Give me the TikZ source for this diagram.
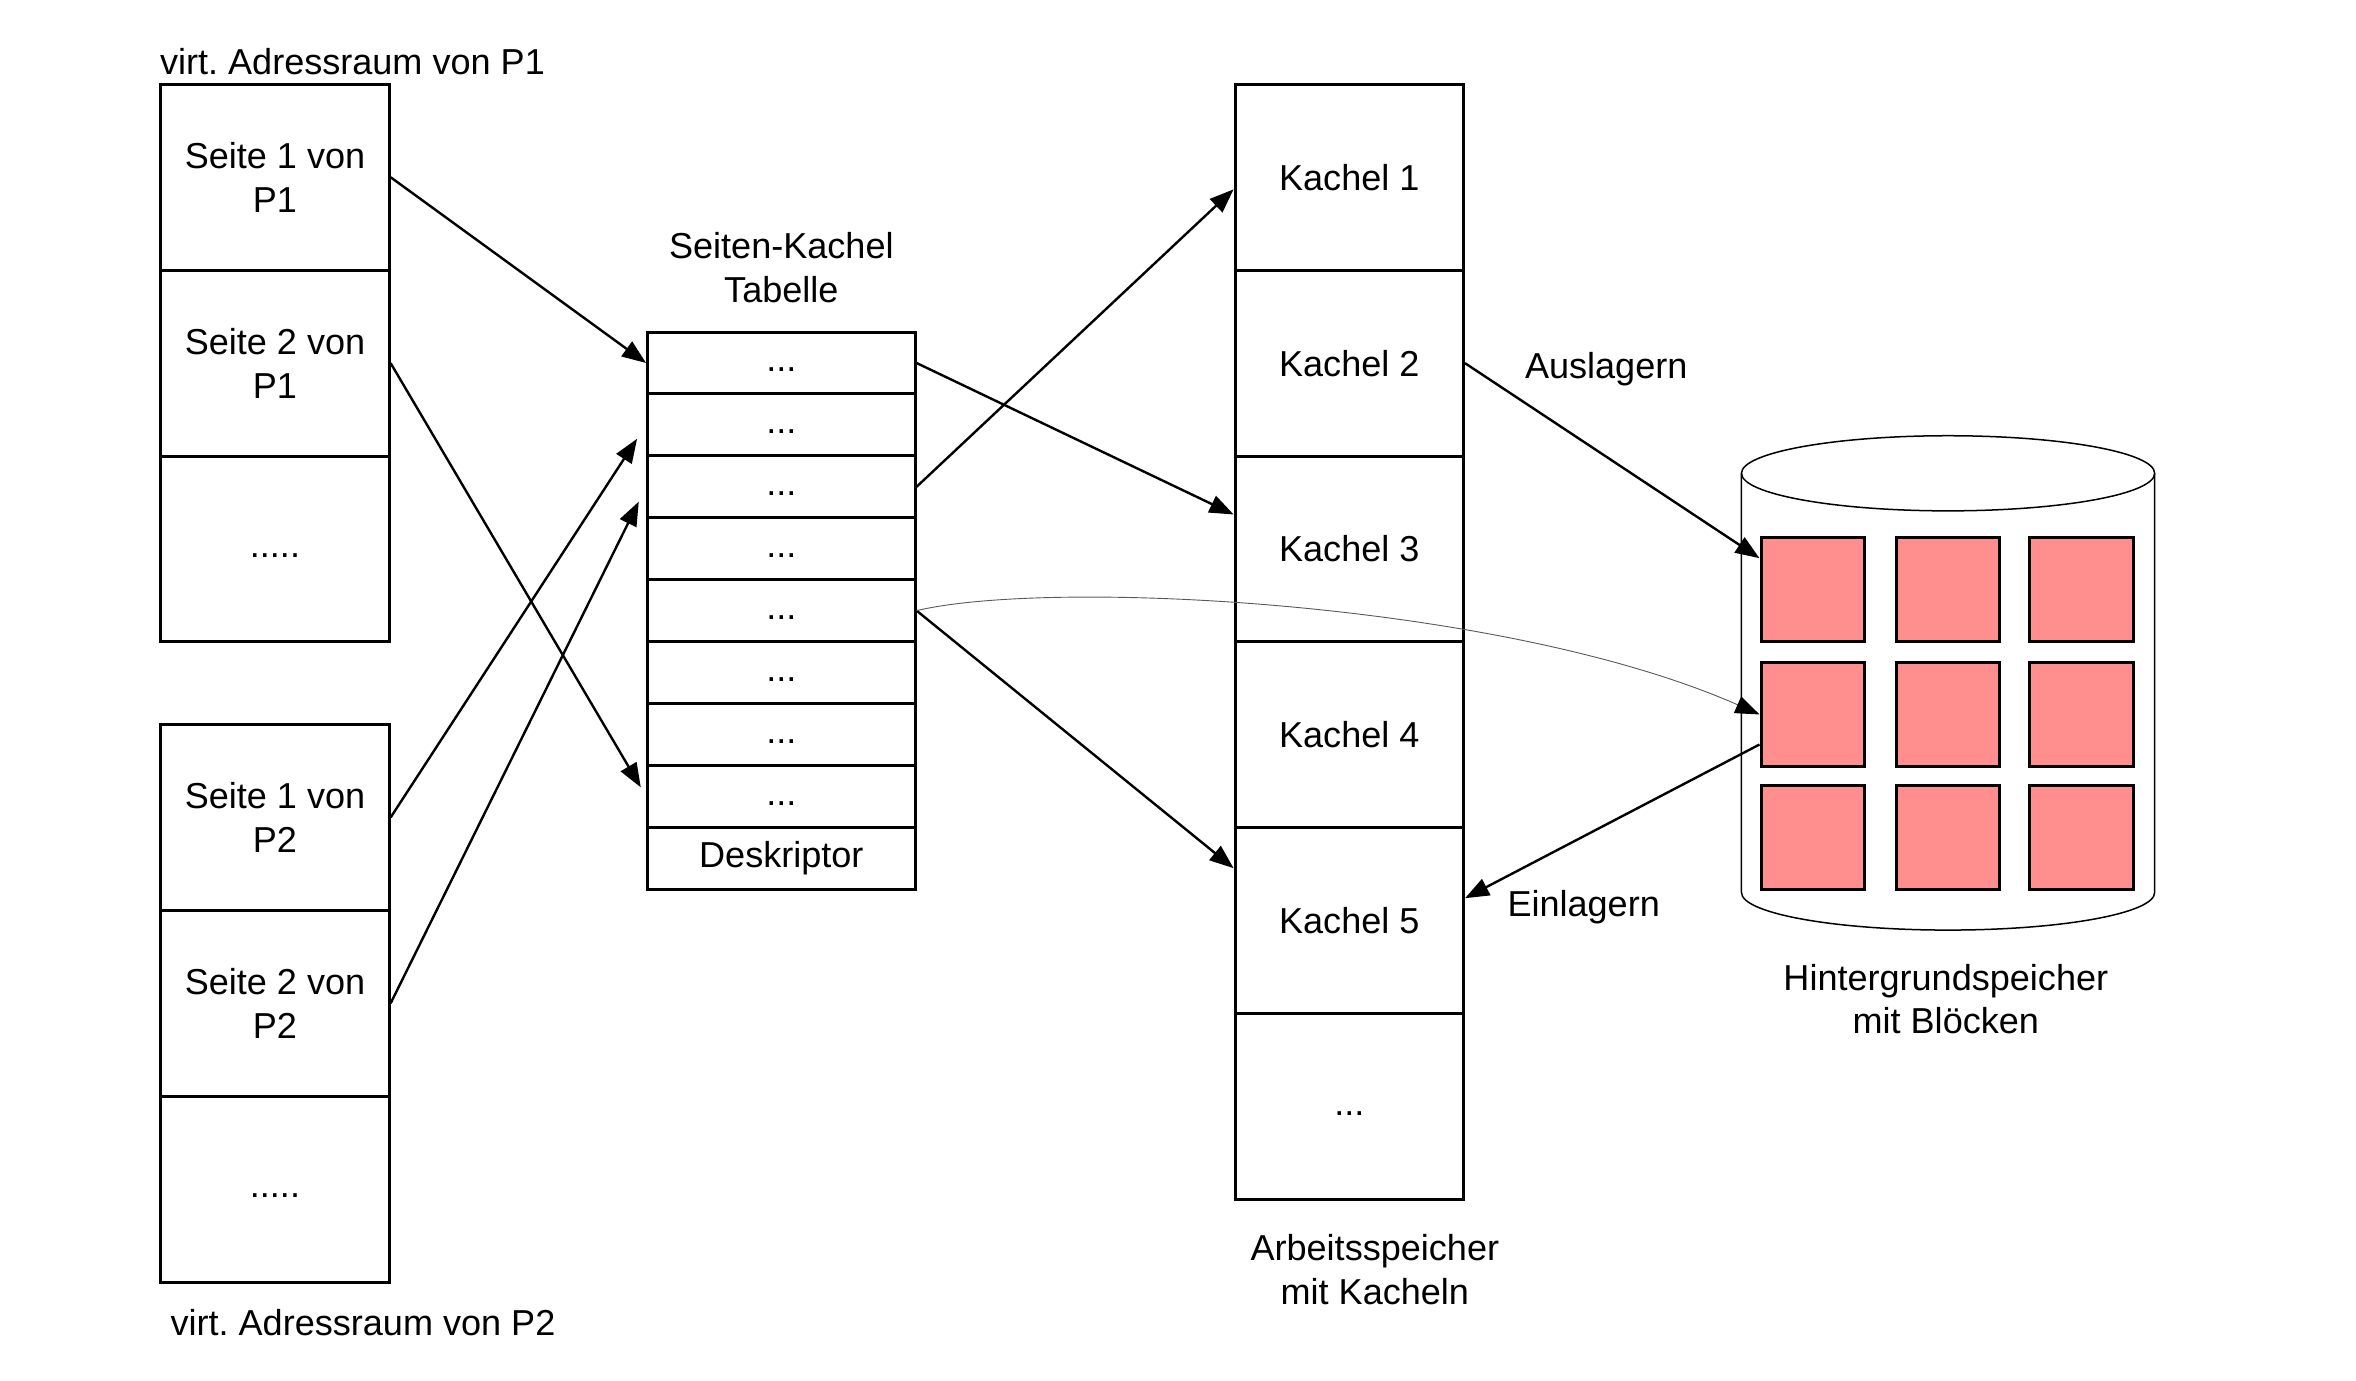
\documentclass[tikz,border=0pt]{standalone}
\usepackage{fontspec}
\setmainfont{Liberation Sans}
\usetikzlibrary{arrows.meta,positioning}
\definecolor{blockred}{RGB}{255,142,142}
\tikzset{>={Triangle[length=16pt,width=12pt]}}

\begin{document}
\begin{tikzpicture}[x=1pt,y=1pt,
    every node/.style={font=\fontsize{24}{29}\selectfont},
    page/.style={draw,line width=2pt,minimum width=152pt,minimum height=123.7pt,align=center,inner sep=0pt},
    entry/.style={draw,line width=2pt,minimum width=178pt,minimum height=41.2pt,inner sep=0pt},
    block/.style={draw,line width=2pt,fill=blockred,minimum size=69pt,inner sep=0pt},
    conn/.style={->,line width=1.6pt}]
    \useasboundingbox (0,0) rectangle (1568,919);
    % virtueller Adressraum P1
    \node [anchor=west] (lblp1) at (103,878) {virt.\ Adressraum von P1};
    \node [page] (s11) at (183,801) {Seite 1 von\\P1};
    \node [page] (s21) at (183,677.3) {Seite 2 von\\P1};
    \node [page] (s31) at (183,553.6) {\strut.....};
    % virtueller Adressraum P2
    \node [page] (s12) at (183,375) {Seite 1 von\\P2};
    \node [page] (s22) at (183,251.3) {Seite 2 von\\P2};
    \node [page] (s32) at (183,127.6) {\strut.....};
    \node [anchor=west] (lblp2) at (110,39) {virt.\ Adressraum von P2};
    % Seiten-Kachel Tabelle
    \node [align=center] (lbltab) at (520,741) {Seiten-Kachel\\Tabelle};
    \node [entry] (t1) at (520,677.4) {\strut...};
    \node [entry] (t2) at (520,636.2) {\strut...};
    \node [entry] (t3) at (520,595.0) {\strut...};
    \node [entry] (t4) at (520,553.8) {\strut...};
    \node [entry] (t5) at (520,512.6) {\strut...};
    \node [entry] (t6) at (520,471.4) {\strut...};
    \node [entry] (t7) at (520,430.2) {\strut...};
    \node [entry] (t8) at (520,389.0) {\strut...};
    \node [entry] (td) at (520,347.8) {Deskriptor};
    % Arbeitsspeicher
    \node [page] (k1) at (898,801) {Kachel 1};
    \node [page] (k2) at (898,677.3) {Kachel 2};
    \node [page] (k3) at (898,553.6) {Kachel 3};
    \node [page] (k4) at (898,429.9) {Kachel 4};
    \node [page] (k5) at (898,306.2) {Kachel 5};
    \node [page] (k6) at (898,182.5) {\strut...};
    \node [align=center] (lblram) at (915,74) {Arbeitsspeicher\\mit Kacheln};
    % Hintergrundspeicher
    \draw [line width=1pt] (1296.5,604) ellipse [x radius=137.5,y radius=25];
    \draw [line width=1pt] (1159,604) -- (1159,325) arc [start angle=180,end angle=360,x radius=137.5,y radius=25] -- (1434,604);
    \node [block] (b11) at (1206.5,526.5) {};
    \node [block] (b12) at (1296.5,526.5) {};
    \node [block] (b13) at (1385.5,526.5) {};
    \node [block] (b21) at (1206.5,443.5) {};
    \node [block] (b22) at (1296.5,443.5) {};
    \node [block] (b23) at (1385.5,443.5) {};
    \node [block] (b31) at (1206.5,361.5) {};
    \node [block] (b32) at (1296.5,361.5) {};
    \node [block] (b33) at (1385.5,361.5) {};
    \node [align=center] (lbldisk) at (1295,254) {Hintergrundspeicher\\mit Blöcken};
    \node (aus) at (1069,673) {Auslagern};
    \node (ein) at (1054,315) {Einlagern};
    % Verbindungen
    \draw [conn] (s11.east) -- (t1.west);
    \draw [conn,shorten >=7pt] (s21.east) -- (t8.west);
    \draw [conn,shorten >=11pt] (s12.east) -- (t2.west);
    \draw [conn,shorten >=11pt] (s22.east) -- (t3.west);
    \draw [conn] (t1.east) -- ([yshift=23pt]k3.west);
    \draw [conn] (t3.east) -- ([yshift=-8pt]k1.west);
    \draw [conn] (t5.east) -- ([yshift=35pt]k5.west);
    \draw [-{Triangle[length=16pt,width=12pt,color=black]},gray!70!black,line width=0.6pt] (t5.east) .. controls (700,534) and (1000,519) .. (b21.west);
    \draw [conn] (k2.east) -- ([yshift=21pt]b11.west);
    \draw [conn] ([yshift=-20pt]b21.west) -- ([yshift=15pt]k5.east);
\end{tikzpicture}
\end{document}
